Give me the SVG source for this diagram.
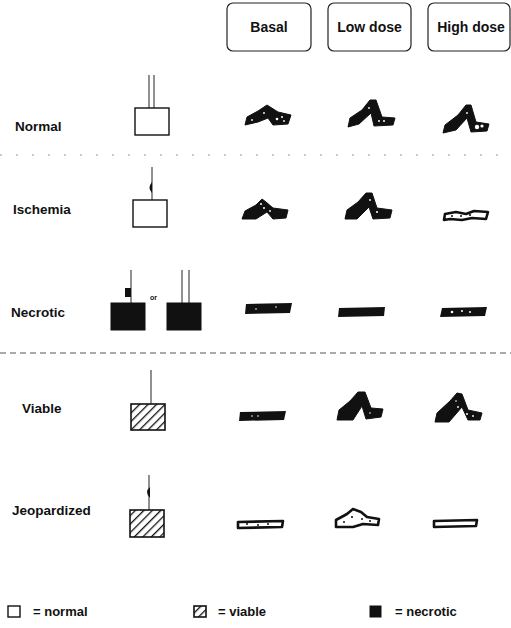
<svg xmlns="http://www.w3.org/2000/svg" width="511" height="628" viewBox="0 0 511 628">
  <defs>
    <pattern id="hatch" patternUnits="userSpaceOnUse" width="6" height="6" patternTransform="rotate(45)">
      <rect width="6" height="6" fill="#fff"/>
      <line x1="0" y1="0" x2="0" y2="6" stroke="#111" stroke-width="2.6"/>
    </pattern>
    <style>
      text { font-family: "Liberation Sans", Arial, sans-serif; font-weight: bold; fill: #111; }
      .hdr { font-size: 14px; text-anchor: middle; }
      .lbl { font-size: 13.5px; }
      .leg { font-size: 13px; }
      .head { fill: none; stroke: #222; stroke-width: 1.2; }
      .box { fill: #fff; stroke: #111; stroke-width: 1.4; }
      .nec { fill: #111; stroke: #111; stroke-width: 1; }
      .hat { fill: url(#hatch); stroke: #111; stroke-width: 1.6; }
      .vessel { stroke: #222; stroke-width: 1; fill: none; }
      .wave { fill: #111; stroke: #111; stroke-width: 1; stroke-linejoin: round; }
      .bar { fill: #111; }
      .hollow { fill: #fff; stroke: #111; stroke-width: 2.6; stroke-linejoin: round; }
      .speck { fill: #fff; }
      .dot { fill: #111; }
      .div { stroke: #555; stroke-width: 1; fill: none; }
    </style>
  </defs>

  <!-- column headers -->
  <g id="header-basal">
    <rect class="head" x="227" y="3" width="84" height="48" rx="6"/>
    <text class="hdr" x="269" y="32">Basal</text>
  </g>
  <g id="header-low">
    <rect class="head" x="328" y="3" width="83" height="48" rx="6"/>
    <text class="hdr" x="369.5" y="32">Low dose</text>
  </g>
  <g id="header-high">
    <rect class="head" x="428" y="3" width="82" height="48" rx="6"/>
    <text class="hdr" x="471" y="32">High dose</text>
  </g>

  <!-- row separators -->
  <g id="separators">
    <line class="div" x1="0" y1="155" x2="511" y2="155" stroke-dasharray="2 14" opacity="0.6"/>
    <line class="div" x1="0" y1="353" x2="511" y2="353" stroke-dasharray="6 4"/>
  </g>

  <!-- Normal -->
  <g id="row-normal">
    <text class="lbl" x="15" y="131">Normal</text>
    <line class="vessel" x1="149" y1="75" x2="149" y2="108"/>
    <line class="vessel" x1="154" y1="75" x2="154" y2="108"/>
    <rect class="box" x="135" y="108" width="34" height="27"/>
    <polygon class="wave" points="245,125 247,117 258,111 267,105 278,112 291,115 288,124 273,125 268,118 258,122"/>
    <polygon class="wave" points="348,127 350,118 362,110 370,100 376,100 382,117 395,118 393,125 374,126 371,113 359,124"/>
    <polygon class="wave" points="443,133 445,125 458,115 466,105 471,105 476,122 489,124 487,131 471,132 467,118 456,130"/>
    <circle class="speck" cx="252" cy="120" r="0.9"/>
    <circle class="speck" cx="264" cy="113" r="0.9"/>
    <circle class="speck" cx="277" cy="119" r="1.3"/>
    <circle class="speck" cx="282" cy="117" r="1"/>
    <circle class="speck" cx="284" cy="121" r="0.9"/>
    <circle class="speck" cx="369" cy="108" r="0.9"/>
    <circle class="speck" cx="379" cy="121" r="1"/>
    <circle class="speck" cx="384" cy="121" r="1"/>
    <circle class="speck" cx="467" cy="113" r="0.9"/>
    <circle class="speck" cx="477" cy="127" r="2.2"/>
    <circle class="speck" cx="482" cy="126" r="1.6"/>
  </g>

  <!-- Ischemia -->
  <g id="row-ischemia">
    <text class="lbl" x="13" y="214">Ischemia</text>
    <line class="vessel" x1="152" y1="167" x2="152" y2="200"/>
    <path d="M152,182 Q147,188 152,193 Z" fill="#111"/>
    <rect class="box" x="133" y="200" width="34" height="27"/>
    <polygon class="wave" points="242,219 245,211 256,205 262,199 266,202 273,208 288,210 286,218 273,219 267,212 256,219"/>
    <polygon class="wave" points="345,219 347,210 358,202 366,193 372,193 377,208 392,210 390,218 373,219 369,207 357,219"/>
    <path class="hollow" d="M445,214 L456,212 L466,214 L474,211 L488,212 L486,219 L472,218 L462,220 L450,219 L444,220 Z"/>
    <circle class="dot" cx="452" cy="216" r="1"/>
    <circle class="dot" cx="461" cy="216" r="1"/>
    <circle class="dot" cx="470" cy="215" r="1.1"/>
    <circle class="speck" cx="261" cy="204" r="1"/>
    <circle class="speck" cx="264" cy="208" r="1"/>
    <circle class="speck" cx="270" cy="211" r="0.9"/>
    <circle class="speck" cx="370" cy="200" r="0.9"/>
    <circle class="speck" cx="377" cy="212" r="1"/>
  </g>

  <!-- Necrotic -->
  <g id="row-necrotic">
    <text class="lbl" x="11" y="317">Necrotic</text>
    <line class="vessel" x1="131" y1="270" x2="131" y2="303"/>
    <rect x="125" y="288" width="6" height="9" fill="#111"/>
    <rect class="nec" x="111" y="303" width="34" height="27"/>
    <text x="150" y="300" style="font-size:7px">or</text>
    <line class="vessel" x1="182" y1="270" x2="182" y2="303"/>
    <line class="vessel" x1="189" y1="270" x2="189" y2="303"/>
    <rect class="nec" x="167" y="303" width="34" height="27"/>
    <path class="bar" d="M246,304 L292,303 L290,313 L245,314 Z"/>
    <path class="bar" d="M339,308 L385,307 L384,316 L338,317 Z"/>
    <path class="bar" d="M442,308 L487,307 L485,316 L440,317 Z"/>
    <circle class="speck" cx="256" cy="309" r="0.8"/>
    <circle class="speck" cx="276" cy="307" r="0.8"/>
    <circle class="speck" cx="452" cy="312" r="1.3"/>
    <circle class="speck" cx="462" cy="311" r="1"/>
    <circle class="speck" cx="470" cy="312" r="1"/>
  </g>

  <!-- Viable -->
  <g id="row-viable">
    <text class="lbl" x="22" y="413">Viable</text>
    <line class="vessel" x1="151" y1="370" x2="151" y2="404"/>
    <rect class="hat" x="131" y="404" width="34" height="26"/>
    <path class="bar" d="M240,412 L286,411 L284,420 L239,421 Z"/>
    <polygon class="wave" points="337,420 339,410 350,401 358,392 365,392 371,408 383,409 381,417 366,419 362,406 353,420"/>
    <polygon class="wave" points="435,422 437,413 450,401 457,393 462,394 468,410 482,413 480,420 468,420 462,407 449,422"/>
    <circle class="speck" cx="252" cy="416" r="0.8"/>
    <circle class="speck" cx="258" cy="416" r="0.8"/>
    <circle class="speck" cx="370" cy="413" r="0.8"/>
    <circle class="speck" cx="456" cy="401" r="0.8"/>
    <circle class="speck" cx="458" cy="407" r="0.9"/>
    <circle class="speck" cx="467" cy="414" r="1"/>
    <circle class="speck" cx="473" cy="416" r="0.9"/>
  </g>

  <!-- Jeopardized -->
  <g id="row-jeopardized">
    <text class="lbl" x="12" y="515">Jeopardized</text>
    <line class="vessel" x1="149" y1="475" x2="149" y2="510"/>
    <path d="M150,487 Q144,492 150,498 Z" fill="#111"/>
    <rect class="hat" x="130" y="510" width="34" height="27"/>
    <path class="hollow" d="M238,522 L283,521 L282,527 L238,528 Z"/>
    <circle class="dot" cx="247" cy="524" r="1"/>
    <circle class="dot" cx="258" cy="525" r="1"/>
    <circle class="dot" cx="268" cy="524" r="1"/>
    <path class="hollow" d="M336,520 L347,514 L353,509 L361,512 L367,517 L379,519 L378,525 L363,524 L353,527 L336,527 Z"/>
    <circle class="dot" cx="344" cy="522" r="1"/>
    <circle class="dot" cx="352" cy="517" r="1.1"/>
    <circle class="dot" cx="362" cy="519" r="1"/>
    <circle class="dot" cx="370" cy="521" r="1"/>
    <path class="hollow" d="M434,521 L477,520 L476,526 L434,527 Z"/>
  </g>

  <!-- legend -->
  <g id="legend">
    <rect class="box" x="8" y="606" width="12" height="11"/>
    <text class="leg" x="33" y="616">= normal</text>
    <rect class="hat" x="194" y="606" width="12" height="11"/>
    <text class="leg" x="218" y="616">= viable</text>
    <rect class="nec" x="370" y="606" width="11" height="11"/>
    <text class="leg" x="395" y="616">= necrotic</text>
  </g>
</svg>
